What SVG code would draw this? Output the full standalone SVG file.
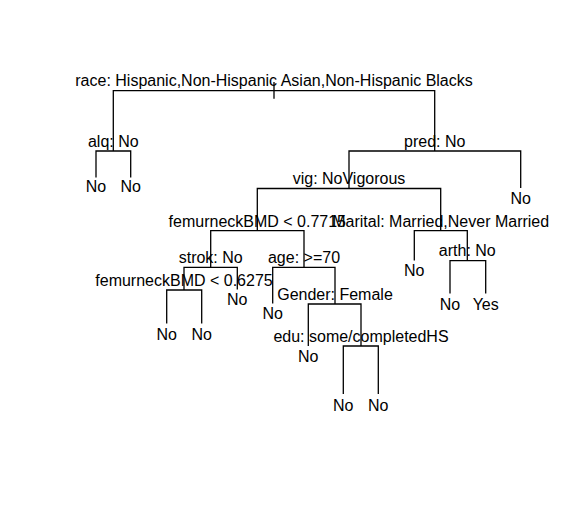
<svg xmlns="http://www.w3.org/2000/svg" width="578" height="505" viewBox="0 0 578 505">
<style>
text{font-family:"Liberation Sans",Arial,Helvetica,sans-serif;font-size:16px;fill:#000;text-anchor:middle}
.e{fill:none;stroke:#000;stroke-width:1.3}
</style>
<rect width="578" height="505" fill="#fff"/>
<g id="connectors" class="e">
<path d="M274,82V98.7"/>
<path d="M113.3,151V90.7H434.7V151"/>
<path d="M96,177.5V151H130.7V177.5"/>
<path d="M349,188.5V151H520.7V188"/>
<path d="M257.3,230.7V188.5H440.7V230.7"/>
<path d="M210.7,267.3V230.7H304V267.3"/>
<path d="M414.3,260.5V230.7H467.3V260.7"/>
<path d="M184,290V267.3H237.3V289.5"/>
<path d="M166.7,323.5V290H201.7V323.5"/>
<path d="M272.7,303.5V267.3H335V304"/>
<path d="M308.3,346V304H361V346"/>
<path d="M343.3,394V346H378.3V394"/>
<path d="M450,293.5V260.7H485.7V293.5"/>
</g>
<g id="n_race"><text x="274" y="86">race: Hispanic,Non-Hispanic Asian,Non-Hispanic Blacks</text></g>
<g id="n_alq"><text x="113.3" y="146.5">alq: No</text></g>
<g id="n_alq_l"><text x="96" y="192">No</text></g>
<g id="n_alq_r"><text x="130.7" y="192">No</text></g>
<g id="n_pred"><text x="434.7" y="146.5">pred: No</text></g>
<g id="n_pred_r"><text x="520.7" y="203.5">No</text></g>
<g id="n_vig"><text x="349" y="184">vig: NoVigorous</text></g>
<g id="n_femur1"><text x="257.3" y="226.5">femurneckBMD &lt; 0.7715</text></g>
<g id="n_marital"><text x="440.7" y="226.5">Marital: Married,Never Married</text></g>
<g id="n_strok"><text x="210.7" y="263">strok: No</text></g>
<g id="n_age"><text x="304" y="263">age: &gt;=70</text></g>
<g id="n_femur2"><text x="184" y="286">femurneckBMD &lt; 0.6275</text></g>
<g id="n_femur2_l"><text x="166.7" y="339.5">No</text></g>
<g id="n_femur2_r"><text x="201.7" y="339.5">No</text></g>
<g id="n_strok_r"><text x="237.3" y="305">No</text></g>
<g id="n_age_l"><text x="272.7" y="319">No</text></g>
<g id="n_gender"><text x="335" y="300">Gender: Female</text></g>
<g id="n_gender_l"><text x="308.3" y="362">No</text></g>
<g id="n_edu"><text x="361" y="341.5">edu: some/completedHS</text></g>
<g id="n_edu_l"><text x="343.3" y="410.5">No</text></g>
<g id="n_edu_r"><text x="378.3" y="410.5">No</text></g>
<g id="n_marital_l"><text x="414.3" y="276">No</text></g>
<g id="n_arth"><text x="467.3" y="256">arth: No</text></g>
<g id="n_arth_l"><text x="450" y="309.5">No</text></g>
<g id="n_arth_r"><text x="485.7" y="309.5">Yes</text></g>
</svg>
